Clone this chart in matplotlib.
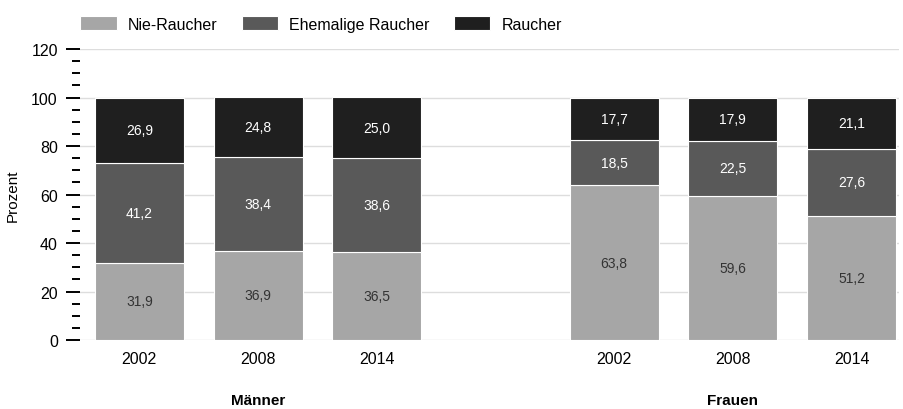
import numpy as np
import matplotlib.pyplot as plt
from matplotlib.ticker import MultipleLocator

plt.rcParams['font.family'] = ['Liberation Sans', 'DejaVu Sans']

# Daten
jahre = ["2002", "2008", "2014", "2002", "2008", "2014"]
gruppen = ["Männer", "Frauen"]
nie_raucher = [31.9, 36.9, 36.5, 63.8, 59.6, 51.2]
ehemalige = [41.2, 38.4, 38.6, 18.5, 22.5, 27.6]
raucher = [26.9, 24.8, 25.0, 17.7, 17.9, 21.1]

serien = [("Nie-Raucher", nie_raucher, "#a6a6a6", "#333333"),
          ("Ehemalige Raucher", ehemalige, "#595959", "white"),
          ("Raucher", raucher, "#1f1f1f", "white")]

x = np.array([0, 1, 2, 4, 5, 6])
breite = 0.75

fig = plt.figure(figsize=(9.04, 4.10), dpi=100)
ax = fig.add_axes([0.0885, 0.168, 0.906, 0.71])

unten = np.zeros(len(x))
for name, werte, farbe, textfarbe in serien:
    werte = np.array(werte)
    ax.bar(x, werte, breite, bottom=unten, color=farbe, label=name,
           edgecolor="white", linewidth=0.8, zorder=2)
    for xi, b, w in zip(x, unten, werte):
        ax.text(xi, b + w / 2, f"{w:.1f}".replace(".", ","), ha="center", va="center",
                fontsize=10, color=textfarbe, zorder=3)
    unten += werte

ax.set_ylim(0, 120)
ax.set_xlim(-0.5, 6.4)
ax.yaxis.set_major_locator(MultipleLocator(20))
ax.yaxis.set_minor_locator(MultipleLocator(5))
ax.tick_params(axis="y", which="major", length=10, width=1.4, color="black", labelsize=11.5, pad=6)
ax.tick_params(axis="y", which="minor", length=5.5, width=1.4, color="black")
ax.set_xticks(x)
ax.set_xticklabels(jahre)
ax.tick_params(axis="x", length=0, labelsize=11.5, pad=8)
ax.grid(axis="y", color="#dddddd", linewidth=1, zorder=0)
ax.set_axisbelow(True)
for s in ax.spines.values():
    s.set_visible(False)
ax.set_ylabel("Prozent", fontsize=11, labelpad=8)

# Gruppenbeschriftung
for xpos, g in zip([1, 5], gruppen):
    ax.text(xpos, -0.205, g, transform=ax.get_xaxis_transform(), ha="center", va="center",
            fontsize=11, fontweight="bold")

ax.legend(loc="lower left", bbox_to_anchor=(0.0, 1.06), ncol=3, frameon=False,
          fontsize=11.5, handlelength=2.3, handleheight=1.0, columnspacing=1.5,
          handletextpad=0.7, borderaxespad=0, borderpad=0)

plt.savefig("out.png", dpi=100)
